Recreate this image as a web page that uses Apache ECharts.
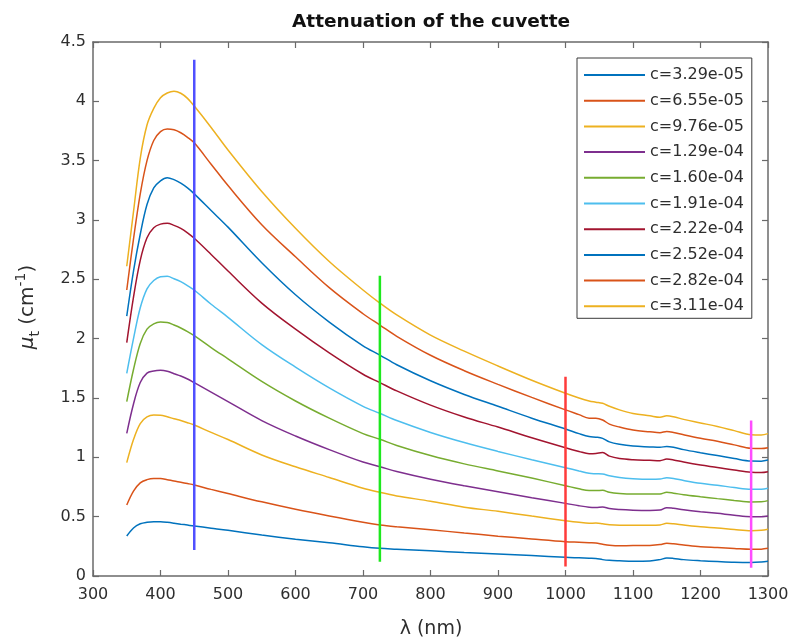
<!DOCTYPE html>
<html>
<head>
<meta charset="utf-8">
<script src="https://cdn.jsdelivr.net/npm/echarts@6/dist/echarts.min.js"></script>
<style>
  html, body { margin: 0; padding: 0; background: #ffffff; }
  #chart { width: 795px; height: 640px; }
</style>
</head>
<body>
<div id="chart"></div>
<script>
// Wavelength grid (nm) shared by all attenuation curves
const wavelengths = [350,360,370,380,390,400,410,420,430,440,450,475,500,550,600,650,700,725,750,800,850,900,950,1000,1020,1035,1045,1055,1065,1080,1100,1125,1140,1150,1160,1175,1200,1225,1250,1275,1290,1300];

// Concentration labels
const concentrations = ['c=3.29e-05','c=6.55e-05','c=9.76e-05','c=1.29e-04','c=1.60e-04','c=1.91e-04','c=2.22e-04','c=2.52e-04','c=2.82e-04','c=3.11e-04'];

// Attenuation coefficient mu_t (cm^-1) for each concentration
const mu1  = [0.337,0.405,0.44,0.453,0.458,0.457,0.452,0.445,0.437,0.429,0.421,0.403,0.385,0.345,0.31,0.28,0.246,0.233,0.226,0.212,0.198,0.186,0.172,0.157,0.153,0.15,0.148,0.138,0.132,0.128,0.124,0.126,0.138,0.152,0.148,0.138,0.129,0.122,0.116,0.114,0.118,0.124];
const mu2  = [0.598,0.715,0.785,0.812,0.822,0.822,0.812,0.80,0.79,0.779,0.767,0.73,0.695,0.625,0.562,0.505,0.452,0.43,0.415,0.39,0.362,0.336,0.312,0.289,0.284,0.28,0.278,0.268,0.26,0.255,0.256,0.258,0.265,0.276,0.272,0.262,0.247,0.24,0.232,0.225,0.226,0.233];
const mu3  = [0.955,1.15,1.285,1.34,1.356,1.355,1.342,1.325,1.31,1.292,1.272,1.21,1.15,1.02,0.92,0.83,0.74,0.705,0.675,0.63,0.58,0.545,0.505,0.466,0.452,0.445,0.446,0.44,0.432,0.428,0.428,0.428,0.43,0.444,0.44,0.43,0.415,0.405,0.392,0.382,0.385,0.394];
const mu4  = [1.202,1.45,1.63,1.71,1.728,1.733,1.725,1.705,1.685,1.66,1.629,1.55,1.47,1.31,1.18,1.065,0.96,0.921,0.88,0.815,0.76,0.71,0.66,0.612,0.592,0.58,0.578,0.582,0.568,0.56,0.555,0.553,0.556,0.576,0.57,0.558,0.542,0.528,0.512,0.50,0.50,0.506];
const mu5  = [1.469,1.74,1.96,2.08,2.125,2.14,2.137,2.115,2.09,2.06,2.025,1.925,1.83,1.64,1.475,1.33,1.2,1.152,1.1,1.015,0.945,0.885,0.825,0.761,0.735,0.72,0.72,0.722,0.705,0.695,0.69,0.69,0.691,0.705,0.698,0.685,0.668,0.652,0.637,0.624,0.625,0.635];
const mu6  = [1.708,2.0,2.26,2.42,2.49,2.522,2.525,2.505,2.48,2.447,2.41,2.29,2.18,1.95,1.76,1.585,1.43,1.371,1.31,1.21,1.125,1.05,0.98,0.913,0.885,0.865,0.862,0.86,0.845,0.83,0.82,0.815,0.817,0.828,0.822,0.805,0.781,0.765,0.745,0.73,0.73,0.739];
const mu7  = [1.966,2.35,2.66,2.85,2.935,2.965,2.972,2.955,2.93,2.892,2.846,2.71,2.57,2.30,2.08,1.88,1.70,1.63,1.56,1.44,1.34,1.255,1.165,1.081,1.05,1.03,1.032,1.04,1.01,0.99,0.98,0.975,0.972,0.985,0.978,0.96,0.935,0.915,0.893,0.874,0.872,0.879];
const mu8  = [2.19,2.57,2.88,3.13,3.27,3.33,3.356,3.34,3.31,3.27,3.22,3.08,2.94,2.64,2.37,2.14,1.94,1.862,1.78,1.645,1.53,1.43,1.33,1.239,1.20,1.175,1.17,1.16,1.13,1.11,1.095,1.088,1.084,1.092,1.085,1.065,1.039,1.015,0.99,0.969,0.968,0.977];
const mu9  = [2.41,2.84,3.22,3.50,3.67,3.745,3.767,3.76,3.735,3.697,3.65,3.47,3.29,2.96,2.69,2.43,2.21,2.115,2.02,1.86,1.73,1.615,1.505,1.40,1.36,1.33,1.33,1.315,1.28,1.255,1.23,1.215,1.208,1.218,1.21,1.19,1.16,1.135,1.105,1.076,1.074,1.081];
const mu10 = [2.61,3.07,3.52,3.80,3.94,4.03,4.07,4.085,4.068,4.025,3.96,3.78,3.59,3.24,2.93,2.65,2.41,2.30,2.20,2.03,1.895,1.77,1.65,1.54,1.50,1.475,1.465,1.455,1.43,1.40,1.37,1.35,1.338,1.35,1.342,1.32,1.29,1.26,1.225,1.19,1.188,1.20];

// Selected wavelengths marked by vertical bars, with their extents
const markerWavelengths = [450, 725, 1000, 1275];
const markerLow  = [0.22, 0.12, 0.08, 0.07];
const markerHigh = [4.35, 2.53, 1.68, 1.31];

// Axis tick labels
const xTickLabels = ['300','400','500','600','700','800','900','1000','1100','1200','1300'];
const yTickLabels = ['0','0.5','1','1.5','2','2.5','3','3.5','4','4.5'];

const curveValues = [mu1, mu2, mu3, mu4, mu5, mu6, mu7, mu8, mu9, mu10];
const curveColors = ['#0072BD','#D95319','#EDB120','#7E2F8E','#77AC30','#4DBEEE','#A2142F','#0072BD','#D95319','#EDB120'];
const markerColors = ['#5050ff','#1ee81e','#ff3b3b','#ff4cff'];

const FONT = 'DejaVu Sans';
const AXIS_COLOR = '#6a6a6a';
const TEXT_COLOR = '#2e2e2e';

const series = curveValues.map((vals, i) => ({
  name: concentrations[i],
  type: 'line',
  data: wavelengths.map((w, j) => [w, vals[j]]),
  showSymbol: false,
  symbol: 'none',
  smooth: 0.35,
  lineStyle: { color: curveColors[i], width: 1.5 },
  itemStyle: { color: curveColors[i] },
  z: 2
}));

markerWavelengths.forEach((w, i) => {
  series.push({
    name: 'marker' + i,
    type: 'line',
    data: [[w, markerLow[i]], [w, markerHigh[i]]],
    symbol: 'none',
    silent: true,
    lineStyle: { color: markerColors[i], width: 2.5 },
    z: 3
  });
});

const xAxisBase = {
  type: 'value', min: 300, max: 1300, interval: 100,
  axisLine: { show: true, onZero: false, lineStyle: { color: AXIS_COLOR, width: 1.5 } },
  axisTick: { show: true, inside: true, length: 6, lineStyle: { color: AXIS_COLOR, width: 1.2 } },
  splitLine: { show: false }
};
const yAxisBase = {
  type: 'value', min: 0, max: 4.5, interval: 0.5,
  axisLine: { show: true, onZero: false, lineStyle: { color: AXIS_COLOR, width: 1.5 } },
  axisTick: { show: true, inside: true, length: 6, lineStyle: { color: AXIS_COLOR, width: 1.2 } },
  splitLine: { show: false }
};

const option = {
  animation: false,
  backgroundColor: '#ffffff',
  grid: { left: 93, right: 27, top: 42, bottom: 64 },
  xAxis: [
    Object.assign({}, xAxisBase, {
      position: 'bottom',
      axisLabel: {
        color: TEXT_COLOR, fontFamily: FONT, fontSize: 16, margin: 11,
        formatter: v => xTickLabels[Math.round((v - 300) / 100)]
      }
    }),
    Object.assign({}, xAxisBase, { position: 'top', axisLabel: { show: false } })
  ],
  yAxis: [
    Object.assign({}, yAxisBase, {
      position: 'left',
      axisLabel: {
        color: TEXT_COLOR, fontFamily: FONT, fontSize: 16, margin: 7,
        formatter: v => yTickLabels[Math.round(v / 0.5)]
      }
    }),
    Object.assign({}, yAxisBase, { position: 'right', axisLabel: { show: false } })
  ],
  legend: {
    data: concentrations,
    orient: 'vertical',
    left: 577, top: 58,
    padding: [7, 8, 2, 7],
    itemGap: 5.7,
    itemWidth: 61,
    itemHeight: 2,
    icon: 'rect',
    borderColor: '#3a3a3a',
    borderWidth: 1,
    backgroundColor: '#ffffff',
    selectedMode: false,
    textStyle: { fontFamily: FONT, fontSize: 16, color: TEXT_COLOR, lineHeight: 20 }
  },
  graphic: [
    {
      type: 'text', x: 431, y: 22,
      style: {
        text: 'Attenuation of the cuvette',
        font: 'bold 18.5px "DejaVu Sans"',
        fill: '#111111', align: 'center', verticalAlign: 'middle'
      }
    },
    {
      type: 'text', x: 431, y: 629,
      style: {
        text: 'λ (nm)',
        font: '19px "DejaVu Sans"',
        fill: TEXT_COLOR, align: 'center', verticalAlign: 'middle'
      }
    },
    {
      type: 'text', x: 28, y: 307, rotation: Math.PI / 2,
      style: {
        text: '{mu|μ}{sub|t} (cm{sup|-1})',
        font: '20px "DejaVu Sans"',
        fill: TEXT_COLOR, align: 'center', verticalAlign: 'middle',
        rich: {
          mu: { fontFamily: FONT, fontSize: 20, fontStyle: 'italic', fill: TEXT_COLOR, lineHeight: 28 },
          sub: { fontFamily: FONT, fontSize: 14, fill: TEXT_COLOR, verticalAlign: 'bottom', lineHeight: 15 },
          sup: { fontFamily: FONT, fontSize: 14, fill: TEXT_COLOR, verticalAlign: 'top', lineHeight: 15 }
        }
      }
    }
  ],
  series: series
};

const chart = echarts.init(document.getElementById('chart'), null, { renderer: 'canvas' });
chart.setOption(option);
</script>
</body>
</html>
